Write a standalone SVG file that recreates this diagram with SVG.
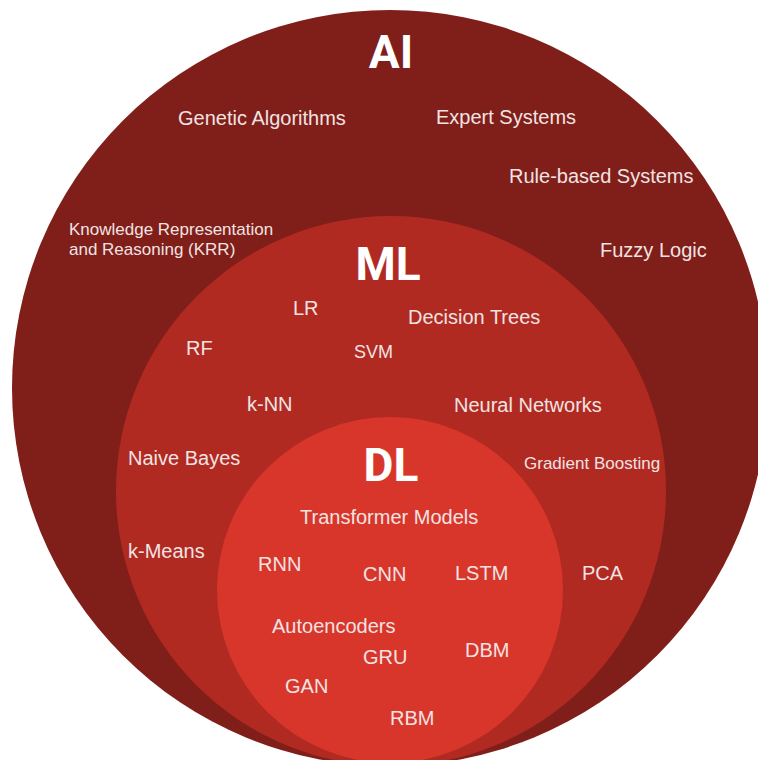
<svg xmlns="http://www.w3.org/2000/svg" width="758" height="760" viewBox="0 0 758 760">
<style>
.lbl{font-family:"Liberation Sans",Arial,sans-serif;font-size:20px;fill:#f1e3e2}
.sm{font-size:17px}
.ttl{font-family:Roboto,"Liberation Sans",Arial,sans-serif;font-weight:bold;font-size:46px;fill:#ffffff;text-anchor:middle}
</style>
<rect width="758" height="760" fill="#ffffff"/>
<g id="ai">
<circle cx="390" cy="388" r="378" fill="#801e19"/>
<text class="ttl" x="391" y="68">AI</text>
<text class="lbl" x="178" y="125">Genetic Algorithms</text>
<text class="lbl" x="436" y="124">Expert Systems</text>
<text class="lbl" x="509" y="183">Rule-based Systems</text>
<text class="lbl sm" x="69" y="235">Knowledge Representation</text>
<text class="lbl sm" x="69" y="255">and Reasoning (KRR)</text>
<text class="lbl" x="600" y="257">Fuzzy Logic</text>
</g>
<g id="ml">
<circle cx="391" cy="491" r="275" fill="#b02a22"/>
<text class="ttl" x="388" y="280">ML</text>
<text class="lbl" x="293" y="315">LR</text>
<text class="lbl" x="408" y="324">Decision Trees</text>
<text class="lbl" x="186" y="355">RF</text>
<text class="lbl" x="354" y="358" style="font-size:18px">SVM</text>
<text class="lbl" x="247" y="411">k-NN</text>
<text class="lbl" x="454" y="412">Neural Networks</text>
<text class="lbl" x="128" y="465">Naive Bayes</text>
<text class="lbl sm" x="524" y="469">Gradient Boosting</text>
<text class="lbl" x="128" y="558">k-Means</text>
<text class="lbl" x="582" y="580">PCA</text>
</g>
<g id="dl">
<circle cx="390" cy="590" r="173" fill="#d8362b"/>
<text class="ttl" x="391" y="481">DL</text>
<text class="lbl" x="300" y="524">Transformer Models</text>
<text class="lbl" x="258" y="571">RNN</text>
<text class="lbl" x="363" y="581">CNN</text>
<text class="lbl" x="455" y="580">LSTM</text>
<text class="lbl" x="272" y="633">Autoencoders</text>
<text class="lbl" x="363" y="664">GRU</text>
<text class="lbl" x="465" y="657">DBM</text>
<text class="lbl" x="285" y="693">GAN</text>
<text class="lbl" x="390" y="725">RBM</text>
</g>
</svg>
